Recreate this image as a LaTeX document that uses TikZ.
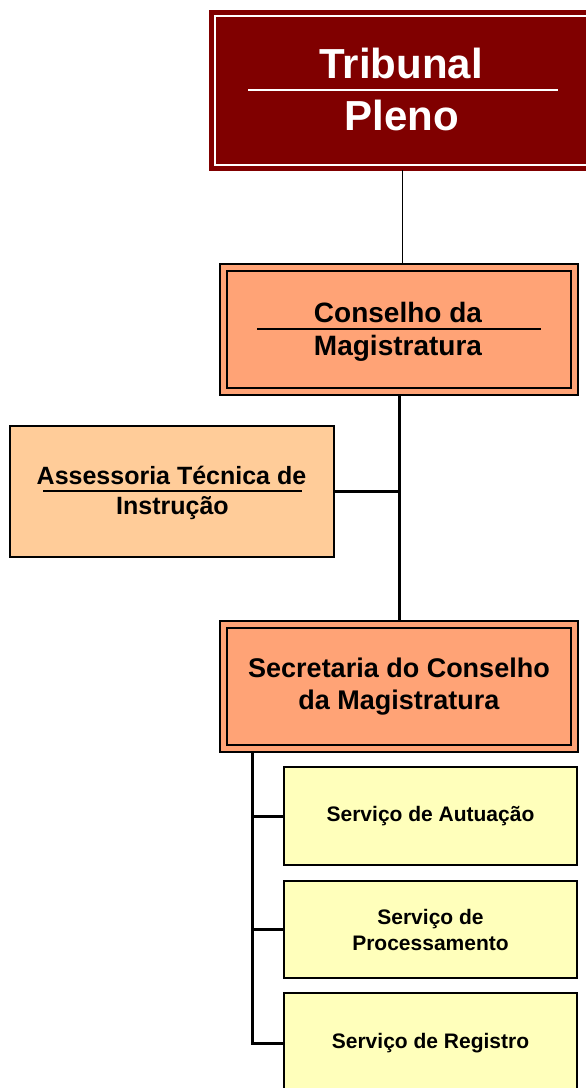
\documentclass[tikz,border=0pt]{standalone}
\usepackage{fontspec}
\setmainfont{Liberation Sans}
\definecolor{trib}{RGB}{128,0,0}
\definecolor{salmon}{RGB}{255,163,118}
\definecolor{peach}{RGB}{255,204,153}
\definecolor{lyellow}{RGB}{255,255,187}
\begin{document}
\begin{tikzpicture}[x=1pt,y=-1pt,
  box/.style={draw=black, line width=2.5pt, inner sep=0pt, outer sep=0pt, align=center, font=\bfseries},
  lbl/.style={anchor=base, inner sep=0pt, font=\bfseries},
  conn/.style={draw=black, line width=3pt},
  thinconn/.style={draw=black, line width=1pt},
  divider/.style={line width=2pt}]
\useasboundingbox (0,0) rectangle (586,1088);
\clip (0,0) rectangle (586,1088);

% Tribunal Pleno
\node[box, draw=trib, fill=trib, line width=1.5pt, minimum width=390pt, minimum height=159pt] (trib) at (405,90.5) {};
\draw[white, line width=1.5pt] ([xshift=5pt,yshift=-5pt]trib.north west) rectangle ([xshift=-5pt,yshift=5pt]trib.south east);
\node[lbl, text=white, font=\bfseries\fontsize{42}{50}\selectfont] (tribA) at (401,78) {Tribunal};
\node[lbl, text=white, font=\bfseries\fontsize{42}{50}\selectfont] (tribB) at (402,130) {Pleno};
\draw[white, line width=1.5pt] (248,90) -- (558,90);

% Conselho da Magistratura
\node[box, fill=salmon, minimum width=358pt, minimum height=131pt] (cons) at (399,329.5) {};
\draw[line width=2.5pt] ([xshift=7pt,yshift=-7pt]cons.north west) rectangle ([xshift=-7pt,yshift=7pt]cons.south east);
\node[lbl, font=\bfseries\fontsize{28}{32}\selectfont] (consA) at (398,322) {Conselho da};
\node[lbl, font=\bfseries\fontsize{28}{32}\selectfont] (consB) at (398,355) {Magistratura};
\draw[divider] (257,329) -- (541,329);

% Assessoria
\node[box, fill=peach, minimum width=324pt, minimum height=131pt] (assess) at (172,491.5) {};
\node[lbl, font=\bfseries\fontsize{25}{30}\selectfont] (assA) at (171.5,484) {Assessoria Técnica de};
\node[lbl, font=\bfseries\fontsize{25}{30}\selectfont] (assB) at (172.5,514) {Instrução};
\draw[divider] (43,491) -- (302,491);

% Secretaria
\node[box, fill=salmon, minimum width=358pt, minimum height=131pt, font=\bfseries\fontsize{27}{32}\selectfont] (sec) at (399,686.5) {Secretaria do Conselho\\da Magistratura};
\draw[line width=2.5pt] ([xshift=7pt,yshift=-7pt]sec.north west) rectangle ([xshift=-7pt,yshift=7pt]sec.south east);

% Servicos
\node[box, fill=lyellow, minimum width=293pt, minimum height=98pt, font=\bfseries\fontsize{21}{26}\selectfont] (s1) at (430.5,816) {Serviço de Autuação};
\node[box, fill=lyellow, minimum width=293pt, minimum height=97pt, font=\bfseries\fontsize{21}{26}\selectfont] (s2) at (430.5,929.5) {Serviço de\\Processamento};
\node[box, fill=lyellow, minimum width=293pt, minimum height=100pt, font=\bfseries\fontsize{21}{26}\selectfont] (s3) at (430.5,1043) {Serviço de Registro};

% Connectors
\coordinate (tc) at (402,0);
\coordinate (lx) at (252,0);
\draw[thinconn] (trib.south -| tc) -- (cons.north -| tc);
\draw[conn] (cons.south) -- (sec.north);
\draw[conn] (assess.east) -- (assess.east -| cons.south);
\draw[conn] (sec.south -| lx) |- (s3.west);
\draw[conn] (s1.west -| lx) -- (s1.west);
\draw[conn] (s2.west -| lx) -- (s2.west);
\end{tikzpicture}
\end{document}
